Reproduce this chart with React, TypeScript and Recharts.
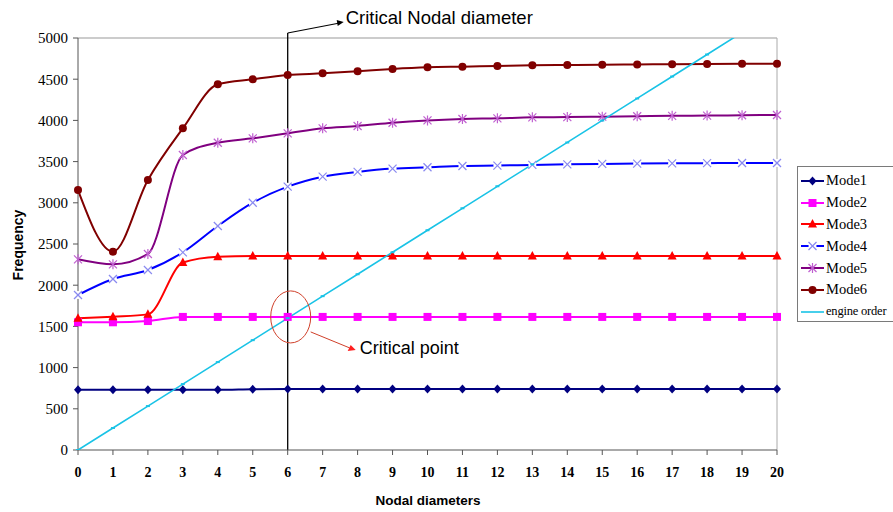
import React from "react";
import { Line, LineChart, ReferenceDot, ReferenceLine, XAxis, YAxis } from "recharts";

// Values
const nodalDiameters = [0, 1, 2, 3, 4, 5, 6, 7, 8, 9, 10, 11, 12, 13, 14, 15, 16, 17, 18, 19, 20];
const mode1 = [730, 730, 730, 730, 730, 737, 740, 740, 740, 740, 740, 740, 740, 740, 740, 740, 740, 740, 740, 740, 740];
const mode2 = [1550, 1550, 1565, 1615, 1615, 1615, 1615, 1615, 1615, 1615, 1615, 1615, 1615, 1615, 1615, 1615, 1615, 1615, 1615, 1615, 1615];
const mode3 = [1598, 1618, 1646, 2275, 2346, 2355, 2355, 2355, 2355, 2355, 2355, 2355, 2355, 2355, 2355, 2355, 2355, 2355, 2355, 2355, 2355];
const mode4 = [1881, 2075, 2184, 2399, 2718, 3001, 3196, 3317, 3375, 3415, 3431, 3447, 3452, 3460, 3467, 3472, 3476, 3479, 3481, 3483, 3483];
const mode5 = [2314, 2253, 2379, 3580, 3729, 3782, 3843, 3904, 3932, 3972, 4000, 4017, 4025, 4037, 4040, 4045, 4050, 4055, 4058, 4062, 4066];
const mode6 = [3155, 2407, 3277, 3904, 4438, 4499, 4551, 4571, 4596, 4624, 4644, 4652, 4660, 4668, 4672, 4676, 4679, 4682, 4684, 4686, 4688];
const engineOrder = [0, 267, 533, 800, 1067, 1333, 1600, 1867, 2133, 2400, 2667, 2933, 3200, 3467, 3733, 4000, 4267, 4533, 4800, 5067, null];
const yTicks = [0, 500, 1000, 1500, 2000, 2500, 3000, 3500, 4000, 4500, 5000];

const CRITICAL_ND = 6;
const CRITICAL_FREQ = 1615;

type MarkerKind = "diamond" | "square" | "triangle" | "cross" | "star" | "circle" | "dash";

const series: { key: string; name: string; stroke: string; mark: string; kind: MarkerKind; width: number }[] = [
  { key: "mode1", name: "Mode1", stroke: "#000080", mark: "#000080", kind: "diamond", width: 2 },
  { key: "mode2", name: "Mode2", stroke: "#ff00ff", mark: "#ff00ff", kind: "square", width: 2 },
  { key: "mode3", name: "Mode3", stroke: "#ff0000", mark: "#ff0000", kind: "triangle", width: 2 },
  { key: "mode4", name: "Mode4", stroke: "#0000ff", mark: "#8a8af0", kind: "cross", width: 2 },
  { key: "mode5", name: "Mode5", stroke: "#800080", mark: "#c060d0", kind: "star", width: 2 },
  { key: "mode6", name: "Mode6", stroke: "#800000", mark: "#800000", kind: "circle", width: 2 },
  { key: "engine", name: "engine order", stroke: "#19c3e6", mark: "#19c3e6", kind: "dash", width: 1.6 },
];

const rows = nodalDiameters.map((nd, i) => ({
  nd,
  mode1: mode1[i],
  mode2: mode2[i],
  mode3: mode3[i],
  mode4: mode4[i],
  mode5: mode5[i],
  mode6: mode6[i],
  engine: engineOrder[i],
}));

function Marker({ kind, cx, cy, color }: { kind: MarkerKind; cx: number; cy: number; color: string }) {
  switch (kind) {
    case "diamond":
      return <polygon points={`${cx},${cy - 4.5} ${cx + 4},${cy} ${cx},${cy + 4.5} ${cx - 4},${cy}`} fill={color} />;
    case "square":
      return <rect x={cx - 4} y={cy - 4} width={8} height={8} fill={color} />;
    case "triangle":
      return <polygon points={`${cx},${cy - 5} ${cx + 4.5},${cy + 3.5} ${cx - 4.5},${cy + 3.5}`} fill={color} />;
    case "cross":
      return (
        <g stroke={color} strokeWidth={1.2}>
          <circle cx={cx} cy={cy} r={4} fill="#fff" stroke="none" />
          <line x1={cx - 4} y1={cy - 4} x2={cx + 4} y2={cy + 4} />
          <line x1={cx - 4} y1={cy + 4} x2={cx + 4} y2={cy - 4} />
        </g>
      );
    case "star":
      return (
        <g stroke={color} strokeWidth={1.2}>
          <line x1={cx - 4} y1={cy - 4} x2={cx + 4} y2={cy + 4} />
          <line x1={cx - 4} y1={cy + 4} x2={cx + 4} y2={cy - 4} />
          <line x1={cx} y1={cy - 5} x2={cx} y2={cy + 5} />
        </g>
      );
    case "circle":
      return <circle cx={cx} cy={cy} r={4} fill={color} />;
    case "dash":
      return <line x1={cx - 2} y1={cy} x2={cx + 2} y2={cy} stroke={color} strokeWidth={2} />;
  }
}

function renderDot(kind: MarkerKind, color: string) {
  return (p: any) =>
    p.cy == null || p.cy < 38 ? (
      <g key={p.index} />
    ) : (
      <Marker key={p.index} kind={kind} cx={p.cx} cy={p.cy} color={color} />
    );
}

// annotation above the chart pointing at the critical nodal diameter line
function NodalNote(props: any) {
  const { cx, cy } = props;
  return (
    <g>
      <line x1={cx} y1={cy} x2={cx} y2={cy - 5} stroke="#000" strokeWidth={1.3} />
      <line x1={cx} y1={cy - 5} x2={cx + 52} y2={cy - 15} stroke="#000" strokeWidth={1.1} />
      <polygon points={`${cx + 56},${cy - 16} ${cx + 49},${cy - 18} ${cx + 50},${cy - 12}`} fill="#000" />
      <text x={cx + 58} y={cy - 14} fontFamily="Arial, 'Liberation Sans', sans-serif" fontSize={18.5} fill="#000">
        Critical Nodal diameter
      </text>
    </g>
  );
}

function CriticalPointNote(props: any) {
  const { cx, cy } = props;
  return (
    <g>
      <ellipse cx={cx + 3} cy={cy} rx={20} ry={26} fill="none" stroke="#d0402a" strokeWidth={1} />
      <line x1={cx + 23} y1={cy + 15} x2={cx + 62} y2={cy + 31} stroke="#d0402a" strokeWidth={1} />
      <polygon points={`${cx + 68},${cy + 33} ${cx + 60},${cy + 34} ${cx + 63},${cy + 28}`} fill="#ff2020" />
      <text x={cx + 72} y={cy + 37} fontFamily="Arial, 'Liberation Sans', sans-serif" fontSize={18} fill="#000">
        Critical point
      </text>
    </g>
  );
}

function LegendBox() {
  return (
    <div
      style={{
        position: "absolute",
        left: 797,
        top: 166,
        width: 120,
        height: 156,
        border: "1px solid #7a7a7a",
        background: "#fff",
        boxSizing: "border-box",
        paddingTop: 3,
      }}
    >
      {series.map((s) => (
        <div key={s.key} style={{ display: "flex", alignItems: "center", height: 21.8 }}>
          <svg width={26} height={14} style={{ marginLeft: 2, flex: "none" }}>
            <line x1={1} y1={7} x2={24} y2={7} stroke={s.stroke} strokeWidth={s.width} />
            {s.kind !== "dash" && <Marker kind={s.kind} cx={12.5} cy={7} color={s.mark} />}
          </svg>
          <span
            style={{
              fontFamily: "'Times New Roman', 'Liberation Serif', serif",
              fontSize: s.kind === "dash" ? 12.5 : 14.5,
              letterSpacing: s.kind === "dash" ? -0.2 : 0,
              color: "#000",
              whiteSpace: "nowrap",
            }}
          >
            {s.name}
          </span>
        </div>
      ))}
    </div>
  );
}

export default function App() {
  return (
    <div
      style={{
        position: "absolute",
        left: 0,
        top: 0,
        width: 893,
        height: 512,
        overflow: "hidden",
        background: "#fff",
      }}
    >
      <LineChart width={790} height={512} data={rows} margin={{ top: 38, right: 13, bottom: 32, left: 28 }}>
        <XAxis
          dataKey="nd"
          type="number"
          domain={[0, 20]}
          ticks={nodalDiameters}
          interval={0}
          height={30}
          stroke="#555"
          tickSize={5}
          tickMargin={12}
          tick={{ fill: "#000", fontSize: 14, fontWeight: "bold", fontFamily: "'Times New Roman', 'Liberation Serif', serif" }}
        />
        <YAxis
          type="number"
          domain={[0, 5000]}
          ticks={yTicks}
          allowDataOverflow
          width={50}
          stroke="#555"
          tickSize={5}
          tickMargin={5}
          tick={{ fill: "#000", fontSize: 15, fontFamily: "'Times New Roman', 'Liberation Serif', serif" }}
        />
        <ReferenceLine y={5000} stroke="#999" strokeWidth={1} />
        <ReferenceLine x={20} stroke="#aaa" strokeWidth={1} />
        <ReferenceLine x={CRITICAL_ND} stroke="#000" strokeWidth={1.3} />
        {series.map((s) => (
          <Line
            key={s.key}
            dataKey={s.key}
            name={s.name}
            type={s.kind === "dash" ? "linear" : "monotone"}
            stroke={s.stroke}
            strokeWidth={s.width}
            dot={renderDot(s.kind, s.mark)}
            activeDot={false}
            isAnimationActive={false}
          />
        ))}
        <ReferenceDot x={CRITICAL_ND} y={5000} ifOverflow="visible" shape={NodalNote} />
        <ReferenceDot x={CRITICAL_ND} y={CRITICAL_FREQ} ifOverflow="visible" shape={CriticalPointNote} />
      </LineChart>
      <LegendBox />
      <div
        style={{
          position: "absolute",
          left: 18,
          top: 245,
          transform: "translate(-50%, -50%) rotate(-90deg)",
          fontFamily: "Arial, 'Liberation Sans', sans-serif",
          fontWeight: "bold",
          fontSize: 14,
          whiteSpace: "nowrap",
        }}
      >
        Frequency
      </div>
      <div
        style={{
          position: "absolute",
          left: 428,
          top: 500,
          transform: "translate(-50%, -50%)",
          fontFamily: "Arial, 'Liberation Sans', sans-serif",
          fontWeight: "bold",
          fontSize: 13.5,
          whiteSpace: "nowrap",
        }}
      >
        Nodal diameters
      </div>
    </div>
  );
}
